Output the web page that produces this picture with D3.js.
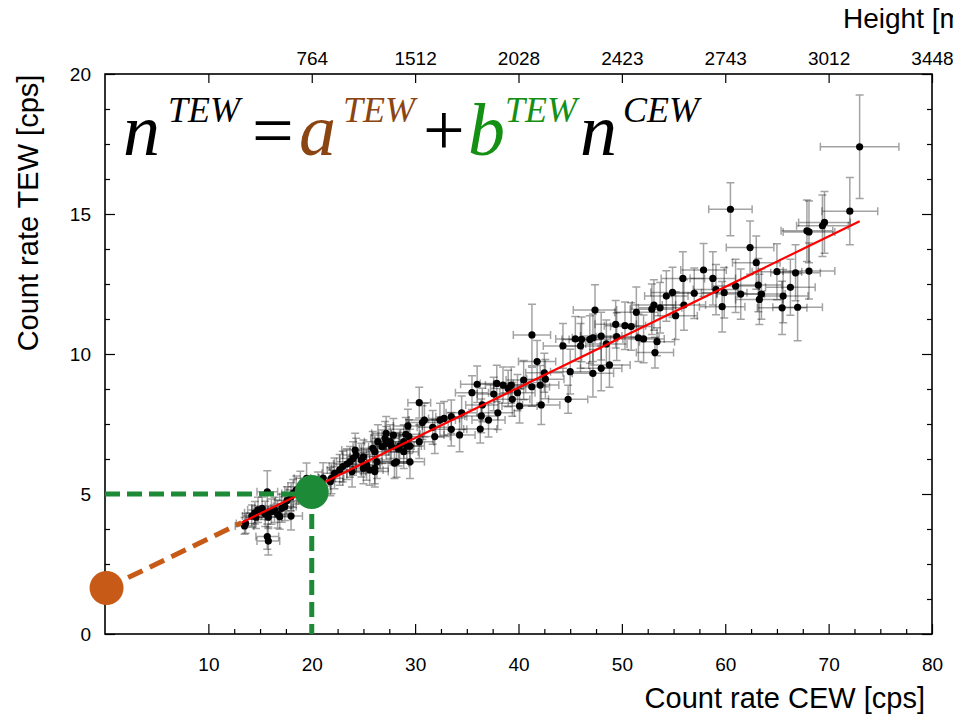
<!DOCTYPE html>
<html>
<head>
<meta charset="utf-8">
<script src="https://cdn.jsdelivr.net/npm/d3@7"></script>
<style>
  body { margin: 0; background: #fff; }
  svg { display: block; }
</style>
</head>
<body>
<div id="chart"></div>
<script>
// count rates: CEW (x), TEW (y) and their errors
const cew = [13.6, 13.5, 14.2, 14.5, 14.8, 15.2, 14.6, 15.5, 15.8, 16.1, 16.4, 16.7, 16.9, 17.1, 18.0, 15.7, 15.8, 15.7, 17.6, 18.0,
  18.2, 18.5, 18.9, 17.4, 19.5, 20.6, 21.1, 21.8, 21.9, 22.2, 22.7, 23.0, 23.4, 23.7, 24.0, 24.3, 23.9, 25.0, 25.3, 25.6,
  26.1, 26.3, 24.8, 25.0, 25.9, 26.4, 26.8, 27.2, 28.0, 26.1, 24.2, 27.6, 27.2, 27.9, 26.1, 28.2, 29.5, 28.9, 28.9, 29.2,
  27.1, 27.7, 28.5, 28.4, 29.5, 29.3, 29.1, 29.4, 30.4, 30.4, 30.9, 30.7, 31.7, 31.9, 32.8, 32.4, 33.5, 33.5, 34.3, 34.5,
  35.5, 36.0, 36.5, 36.4, 37.1, 36.3, 38.0, 37.9, 37.6, 38.5, 39.3, 39.0, 39.9, 39.4, 40.1, 40.5, 41.3, 42.1, 42.2, 41.8,
  42.5, 42.6, 41.3, 44.8, 44.3, 45.0, 45.5, 46.1, 46.0, 46.9, 47.2, 47.2, 47.4, 48.0, 48.0, 48.5, 48.8, 49.4, 49.5, 50.3,
  50.9, 51.4, 51.6, 52.1, 53.4, 53.2, 52.9, 53.1, 53.7, 54.3, 54.9, 55.2, 56.0, 55.9, 57.0, 57.9, 58.8, 59.1, 59.9, 59.7,
  60.5, 61.0, 61.5, 62.4, 63.0, 63.2, 63.5, 63.3, 65.0, 65.6, 65.5, 66.3, 66.8, 67.0, 68.1, 67.9, 68.1, 69.4, 69.6, 72.05,
  73.0];
const tew = [3.95, 3.86, 4.21, 4.33, 4.43, 4.49, 4.17, 4.29, 4.17, 4.37, 4.43, 4.29, 4.19, 4.49, 4.21, 3.48, 3.32, 5.08, 4.76, 4.90,
  5.02, 5.14, 5.26, 4.55, 5.56, 5.29, 5.57, 5.44, 5.56, 5.74, 5.86, 5.98, 6.07, 6.15, 6.27, 6.39, 5.80, 5.92, 6.04, 5.86,
  5.92, 6.15, 6.21, 6.33, 6.63, 6.87, 6.69, 6.81, 6.10, 5.80, 6.57, 6.87, 7.17, 7.10, 6.51, 6.15, 6.15, 6.87, 6.51, 6.71,
  6.99, 6.71, 6.71, 6.60, 6.71, 7.43, 7.13, 7.05, 6.87, 8.26, 7.64, 7.55, 7.38, 7.05, 7.70, 7.64, 7.31, 7.76, 7.11, 7.90,
  8.62, 8.92, 8.18, 7.79, 7.64, 7.32, 7.90, 8.95, 8.57, 8.89, 8.89, 8.77, 8.62, 8.38, 8.14, 9.07, 8.83, 8.89, 8.18, 9.73,
  9.33, 9.10, 10.68, 8.38, 10.29, 9.37, 10.54, 10.52, 10.29, 10.52, 10.58, 9.31, 11.57, 10.64, 9.49, 10.36, 9.61, 11.06, 10.62, 11.01,
  10.98, 11.49, 10.58, 10.54, 10.44, 10.05, 11.60, 11.75, 11.65, 12.07, 12.20, 11.37, 11.75, 12.70, 12.17, 13.00, 12.70, 12.30, 12.19, 11.69,
  15.17, 12.43, 12.14, 13.80, 13.26, 12.46, 12.14, 11.95, 12.94, 12.07, 11.65, 12.38, 12.90, 11.67, 12.96, 14.40, 14.36, 14.58, 14.70, 15.10,
  17.40];
const cewErr = [0.9, 0.9, 0.9, 1.0, 1.0, 1.0, 0.9, 1.0, 1.0, 1.0, 1.1, 1.1, 1.0, 1.1, 1.1, 1.1, 1.1, 1.0, 1.1, 1.1,
  1.1, 1.1, 1.2, 1.1, 1.2, 1.2, 1.2, 1.2, 1.2, 1.2, 1.2, 1.3, 1.3, 1.3, 1.3, 1.3, 1.3, 1.3, 1.3, 1.3,
  1.3, 1.3, 1.3, 1.3, 1.3, 1.3, 1.3, 1.4, 1.4, 1.3, 1.3, 1.4, 1.4, 1.4, 1.3, 1.4, 1.4, 1.4, 1.4, 1.4,
  1.4, 1.4, 1.4, 1.4, 1.4, 1.4, 1.4, 1.4, 1.4, 1.1, 1.5, 1.5, 1.5, 1.5, 1.5, 1.5, 1.5, 1.5, 1.5, 1.5,
  1.6, 1.6, 1.6, 1.6, 1.6, 1.6, 1.6, 1.6, 1.6, 1.7, 1.7, 1.7, 1.7, 1.7, 1.7, 1.7, 1.7, 1.8, 1.8, 1.8,
  1.8, 1.8, 1.8, 1.9, 1.9, 1.9, 1.9, 1.9, 1.9, 2.0, 2.0, 2.0, 2.1, 2.0, 2.0, 2.0, 2.0, 2.0, 2.0, 2.0,
  2.0, 2.1, 2.0, 2.0, 1.7, 1.8, 2.1, 2.1, 2.1, 2.1, 2.1, 2.1, 2.1, 2.1, 2.2, 2.2, 2.2, 2.2, 2.2, 2.2,
  2.1, 2.3, 2.3, 2.3, 2.3, 2.3, 2.3, 2.3, 2.4, 2.4, 2.4, 2.4, 2.4, 2.4, 2.5, 2.5, 2.5, 2.5, 2.5, 2.7,
  3.8];
const tewErr = [0.35, 0.3, 0.4, 0.4, 0.45, 0.4, 0.4, 0.45, 0.4, 0.45, 0.45, 0.5, 0.45, 0.5, 0.5, 0.45, 0.5, 0.75, 0.5, 0.5,
  0.5, 0.5, 0.55, 0.5, 0.55, 0.5, 0.55, 0.5, 0.55, 0.55, 0.55, 0.55, 0.55, 0.55, 0.6, 0.6, 0.55, 0.55, 0.55, 0.55,
  0.55, 0.6, 0.6, 0.6, 0.6, 0.6, 0.6, 0.6, 0.55, 0.55, 0.6, 0.6, 0.6, 0.6, 0.6, 0.55, 0.6, 0.6, 0.6, 0.6,
  0.6, 0.6, 0.6, 0.6, 0.6, 0.6, 0.6, 0.6, 0.6, 0.55, 0.6, 0.6, 0.6, 0.6, 0.6, 0.6, 0.6, 0.6, 0.6, 0.6,
  0.6, 0.65, 0.6, 0.6, 0.6, 0.5, 0.6, 0.65, 0.6, 0.65, 0.65, 0.65, 0.65, 0.6, 0.6, 0.7, 0.7, 0.7, 0.7, 0.75,
  0.7, 0.7, 1.1, 0.5, 0.8, 0.8, 0.8, 0.8, 0.8, 0.85, 0.85, 0.85, 0.9, 0.85, 0.8, 0.85, 0.8, 0.85, 0.85, 0.85,
  0.85, 0.9, 0.85, 0.85, 0.5, 0.55, 0.9, 0.9, 0.9, 0.9, 0.9, 0.85, 0.9, 0.95, 0.9, 0.95, 0.95, 0.9, 0.9, 0.9,
  0.95, 0.95, 0.9, 0.95, 0.95, 0.95, 0.9, 0.9, 1.0, 0.95, 0.95, 1.0, 1.0, 1.2, 1.0, 1.1, 1.1, 1.1, 1.1, 1.2,
  1.85];

// linear fit n_TEW = a + b * n_CEW
const fitA = 1.6, fitB = 0.18;
const fitRange = [13.2, 73];
const pointA = { x: 0.15, y: 1.64 };
const pointB = { x: 20, y: 5.07 };
const guideY = 5.0;

const xMajor = [10, 20, 30, 40, 50, 60, 70, 80];
const heightLabels = ["", "764", "1512", "2028", "2423", "2743", "3012", "3448"];
const yMajor = [0, 5, 10, 15, 20];

const W = 953, H = 721;
const frame = { left: 105, right: 932, top: 74, bottom: 634 };

const svg = d3.select("#chart").append("svg")
  .attr("width", W)
  .attr("height", H)
  .style("font-family", "'Liberation Sans', Arial, sans-serif");

const x = d3.scaleLinear().domain([0, 80]).range([frame.left, frame.right]);
const y = d3.scaleLinear().domain([0, 20]).range([frame.bottom, frame.top]);

const xMinor = d3.range(10, 80.01, 2.5).filter(v => v % 10 !== 0);
const yMinor = d3.range(0, 20.01, 1.25).filter(v => v % 5 !== 0);

// axes, ticks pointing inwards
const axes = svg.append("g");

axes.append("g")
  .attr("transform", `translate(0,${frame.bottom})`)
  .call(d3.axisBottom(x).tickValues(xMajor).tickSizeInner(-10).tickSizeOuter(0).tickPadding(24))
  .call(g => g.select(".domain").remove());
axes.append("g")
  .attr("transform", `translate(0,${frame.bottom})`)
  .call(d3.axisBottom(x).tickValues(xMinor).tickSizeInner(-5).tickSizeOuter(0).tickFormat(""))
  .call(g => g.select(".domain").remove());

axes.append("g")
  .attr("transform", `translate(0,${frame.top})`)
  .call(d3.axisTop(x).tickValues(xMajor).tickSizeInner(-9).tickSizeOuter(0).tickPadding(9)
    .tickFormat((d, i) => heightLabels[i]))
  .call(g => g.select(".domain").remove());

axes.append("g")
  .attr("transform", `translate(${frame.left},0)`)
  .call(d3.axisLeft(y).tickValues(yMajor).tickSizeInner(-10).tickSizeOuter(0).tickPadding(14))
  .call(g => g.select(".domain").remove());
axes.append("g")
  .attr("transform", `translate(${frame.left},0)`)
  .call(d3.axisLeft(y).tickValues(yMinor).tickSizeInner(-5).tickSizeOuter(0).tickFormat(""))
  .call(g => g.select(".domain").remove());

axes.append("g")
  .attr("transform", `translate(${frame.right},0)`)
  .call(d3.axisRight(y).tickValues(yMajor).tickSizeInner(-10).tickSizeOuter(0).tickFormat(""))
  .call(g => g.select(".domain").remove());
axes.append("g")
  .attr("transform", `translate(${frame.right},0)`)
  .call(d3.axisRight(y).tickValues(yMinor).tickSizeInner(-5).tickSizeOuter(0).tickFormat(""))
  .call(g => g.select(".domain").remove());

axes.selectAll(".tick line").attr("stroke", "#000").attr("stroke-width", 1.2);
axes.selectAll(".tick text")
  .style("font-size", "19px")
  .style("font-family", "'Liberation Sans', Arial, sans-serif")
  .attr("fill", "#000");

svg.append("rect")
  .attr("x", frame.left).attr("y", frame.top)
  .attr("width", frame.right - frame.left).attr("height", frame.bottom - frame.top)
  .attr("fill", "none").attr("stroke", "#000").attr("stroke-width", 1.6);

// axis titles
svg.append("text")
  .attr("x", 925).attr("y", 708)
  .attr("text-anchor", "end")
  .style("font-size", "29px")
  .text("Count rate CEW [cps]");

svg.append("text")
  .attr("transform", "translate(38,213) rotate(-90)")
  .attr("text-anchor", "middle")
  .style("font-size", "29px")
  .text("Count rate TEW [cps]");

svg.append("text")
  .attr("x", 843).attr("y", 28)
  .style("font-size", "28px")
  .text("Height [m]");

// data: error bars then points
const data = cew.map((v, i) => ({ x: v, y: tew[i], xe: cewErr[i], ye: tewErr[i] }));
const cap = 4;
const bars = svg.append("g")
  .attr("stroke", "#000")
  .attr("stroke-opacity", 0.36)
  .attr("stroke-width", 1.5)
  .attr("fill", "none");

bars.selectAll("path")
  .data(data)
  .enter()
  .append("path")
  .attr("d", d => {
    const x0 = x(d.x - d.xe), x1 = x(d.x + d.xe), cx = x(d.x);
    const y0 = y(d.y - d.ye), y1 = y(d.y + d.ye), cy = y(d.y);
    return `M${x0},${cy}H${x1}` +
      `M${x0},${cy - cap}V${cy + cap}M${x1},${cy - cap}V${cy + cap}` +
      `M${cx},${y0}V${y1}` +
      `M${cx - cap},${y0}H${cx + cap}M${cx - cap},${y1}H${cx + cap}`;
  });

svg.append("g")
  .selectAll("circle")
  .data(data)
  .enter()
  .append("circle")
  .attr("cx", d => x(d.x))
  .attr("cy", d => y(d.y))
  .attr("r", 3.6)
  .attr("fill", "#000");

// fit line
const line = d3.line().x(d => x(d)).y(d => y(fitA + fitB * d));
svg.append("path")
  .datum(fitRange)
  .attr("d", line)
  .attr("fill", "none")
  .attr("stroke", "#ff0000")
  .attr("stroke-width", 2.2);

// intercept guide
const orange = "#c65a16", green = "#1c8a36";
svg.append("line")
  .attr("x1", x(pointA.x)).attr("y1", y(pointA.y))
  .attr("x2", x(fitRange[0])).attr("y2", y(fitA + fitB * fitRange[0]))
  .attr("stroke", orange).attr("stroke-width", 5)
  .attr("stroke-dasharray", "16 8");

// slope guides
svg.append("line")
  .attr("x1", x(0)).attr("y1", y(guideY))
  .attr("x2", x(pointB.x)).attr("y2", y(guideY))
  .attr("stroke", green).attr("stroke-width", 5)
  .attr("stroke-dasharray", "15 7");
svg.append("line")
  .attr("x1", x(pointB.x)).attr("y1", y(pointB.y))
  .attr("x2", x(pointB.x)).attr("y2", y(0))
  .attr("stroke", green).attr("stroke-width", 5)
  .attr("stroke-dasharray", "15 7");

svg.append("circle")
  .attr("cx", x(pointA.x)).attr("cy", y(pointA.y))
  .attr("r", 17).attr("fill", orange);
svg.append("circle")
  .attr("cx", x(pointB.x)).attr("cy", y(pointB.y))
  .attr("r", 17).attr("fill", green);

// formula
const formula = svg.append("g")
  .style("font-family", "'Liberation Serif', 'Times New Roman', serif");
const big = "74px", sup = "36px";
const pieces = [
  { t: "n", x: 123, base: 155, size: big, italic: true, color: "#000" },
  { t: "TEW", x: 168, base: 122, size: sup, italic: true, color: "#000" },
  { t: "=", x: 252, base: 155, size: big, italic: false, color: "#000" },
  { t: "a", x: 299, base: 155, size: big, italic: true, color: "#8b4513" },
  { t: "TEW", x: 343, base: 122, size: sup, italic: true, color: "#8b4513" },
  { t: "+", x: 423, base: 155, size: big, italic: false, color: "#000" },
  { t: "b", x: 468, base: 155, size: big, italic: true, color: "#149014" },
  { t: "TEW", x: 505, base: 122, size: sup, italic: true, color: "#149014" },
  { t: "n", x: 580, base: 155, size: big, italic: true, color: "#000" },
  { t: "CEW", x: 623, base: 122, size: sup, italic: true, color: "#000" }
];
pieces.forEach(p => {
  formula.append("text")
    .attr("x", p.x).attr("y", p.base)
    .style("font-size", p.size)
    .style("font-style", p.italic ? "italic" : "normal")
    .attr("fill", p.color)
    .text(p.t);
});
</script>
</body>
</html>
